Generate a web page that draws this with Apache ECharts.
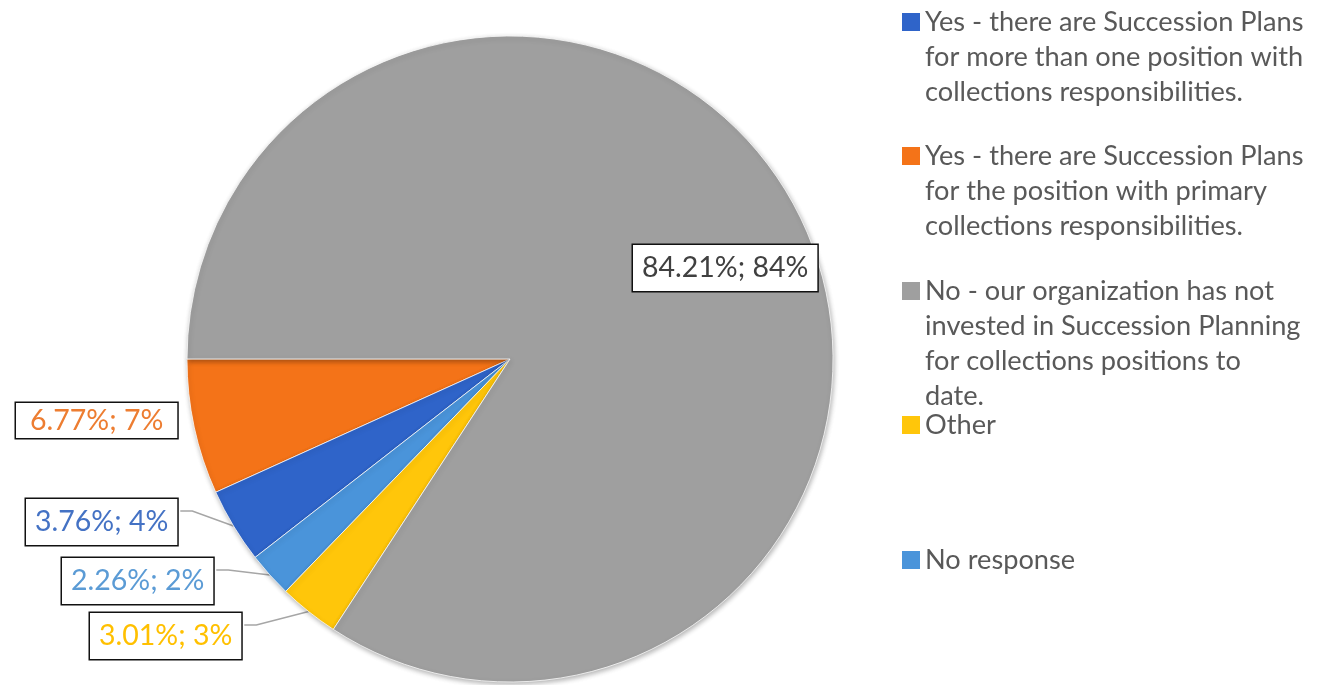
<!DOCTYPE html>
<html>
<head>
<meta charset="utf-8">
<script src="https://cdn.jsdelivr.net/npm/echarts@6/dist/echarts.min.js"></script>
<style>
  html, body { margin: 0; padding: 0; background: #ffffff; }
  #chart { width: 1339px; height: 685px; }
</style>
</head>
<body>
<div id="chart"></div>
<script>
// Survey answers, in legend order
const categories = [
  'Yes - there are Succession Plans for more than one position with collections responsibilities.',
  'Yes - there are Succession Plans for the position with primary collections responsibilities.',
  'No - our organization has not invested in Succession Planning for collections positions to date.',
  'Other',
  'No response'
];
// Number of respondents per answer
const responses = [5, 9, 112, 4, 3];
// Legend text broken into lines
const legendLines = [
  ['Yes - there are Succession Plans', 'for more than one position with', 'collections responsibilities.'],
  ['Yes - there are Succession Plans', 'for the position with primary', 'collections responsibilities.'],
  ['No - our organization has not', 'invested in Succession Planning', 'for collections positions to', 'date.'],
  ['Other'],
  ['No response']
];
// Order in which slices are laid around the pie (from 9 o'clock, going down)
const sliceOrder = [1, 0, 4, 3, 2];

// Styling
const sliceColors = ['#2f64c9', '#f47318', '#9f9f9f', '#ffc60a', '#4a94da'];
const labelColors = ['#4472c4', '#ed7d31', '#404040', '#ffc000', '#5b9bd5'];
const FONT = 'Lato, "Open Sans", sans-serif';
const CX = 510, CY = 359, R = 323;

// Top-left corners of the value boxes, by answer index
const labelBoxes = [[26, 499], [16, 403], [633, 245], [90, 613], [62, 558]];
const labelPadding = [[6, 9], [1, 14], [6, 9], [6, 9], [6, 9]];
const hasLeader = [true, false, false, true, true];
// Icon centres of the legend entries
const legendIconY = [22, 156, 291, 425, 560];
const LEGEND_LH = 35;
const ICON = 18;

const total = responses.reduce((a, b) => a + b, 0);
const pct = v => v / total * 100;

// Point on the outer arc at the middle of a slice
function arcMidPoint(sliceIdx) {
  let before = 0;
  for (let k = 0; k < sliceIdx; k++) before += responses[sliceOrder[k]];
  const v = responses[sliceOrder[sliceIdx]];
  const deg = 180 + 360 * (before + v / 2) / total;
  const rad = deg * Math.PI / 180;
  return [CX + R * Math.cos(rad), CY - R * Math.sin(rad)];
}

const pieData = sliceOrder.map(ci => ({
  name: categories[ci],
  value: responses[ci],
  itemStyle: { color: sliceColors[ci] },
  label: {
    color: labelColors[ci],
    padding: labelPadding[ci],
    lineHeight: ci === 1 ? 33 : 34
  },
  labelLine: { show: hasLeader[ci] }
}));

// One legend per answer so each entry can sit at its own height;
// leading blank lines keep the marker level with the first text line.
const legends = categories.map((name, i) => {
  const n = legendLines[i].length;
  return {
    data: [name],
    orient: 'vertical',
    left: 902,
    top: legendIconY[i] - (2 * n - 1) * LEGEND_LH / 2,
    padding: 0,
    itemWidth: ICON,
    itemHeight: ICON,
    itemGap: 0,
    icon: 'rect',
    itemStyle: { borderWidth: 0, shadowBlur: 0, shadowOffsetX: 0, shadowOffsetY: 0 },
    formatter: () => '\n'.repeat(n - 1) + legendLines[i].join('\n'),
    textStyle: {
      fontFamily: FONT,
      fontSize: 27.2,
      lineHeight: LEGEND_LH,
      color: '#595959'
    }
  };
});

const chart = echarts.init(document.getElementById('chart'), null, { renderer: 'canvas' });
chart.setOption({
  animation: false,
  backgroundColor: '#ffffff',
  legend: legends,
  series: [{
    type: 'pie',
    center: [CX, CY],
    radius: R,
    startAngle: 180,
    clockwise: false,
    avoidLabelOverlap: false,
    data: pieData,
    itemStyle: {
      borderColor: 'rgba(255,255,255,0.75)',
      borderWidth: 1,
      shadowBlur: 5,
      shadowOffsetX: 1,
      shadowOffsetY: 2,
      shadowColor: 'rgba(0,0,0,0.3)'
    },
    label: {
      show: true,
      position: 'outside',
      fontFamily: FONT,
      fontSize: 28.5,
      backgroundColor: '#ffffff',
      borderColor: '#111111',
      borderWidth: 1.5,
      formatter: p => pct(p.value).toFixed(2) + '%; ' + Math.round(pct(p.value)) + '%'
    },
    labelLine: {
      lineStyle: { color: '#a6a6a6', width: 1.5 }
    },
    emphasis: { scale: false },
    labelLayout: params => {
      const ci = sliceOrder[params.dataIndex];
      const box = labelBoxes[ci];
      const out = { x: box[0], y: box[1], align: 'left', verticalAlign: 'top' };
      if (hasLeader[ci]) {
        const right = box[0] + params.labelRect.width;
        const ly = box[1] + 12;
        out.labelLinePoints = [arcMidPoint(params.dataIndex), [right + 12, ly], [right, ly]];
      }
      return out;
    }
  }]
});
</script>
</body>
</html>
